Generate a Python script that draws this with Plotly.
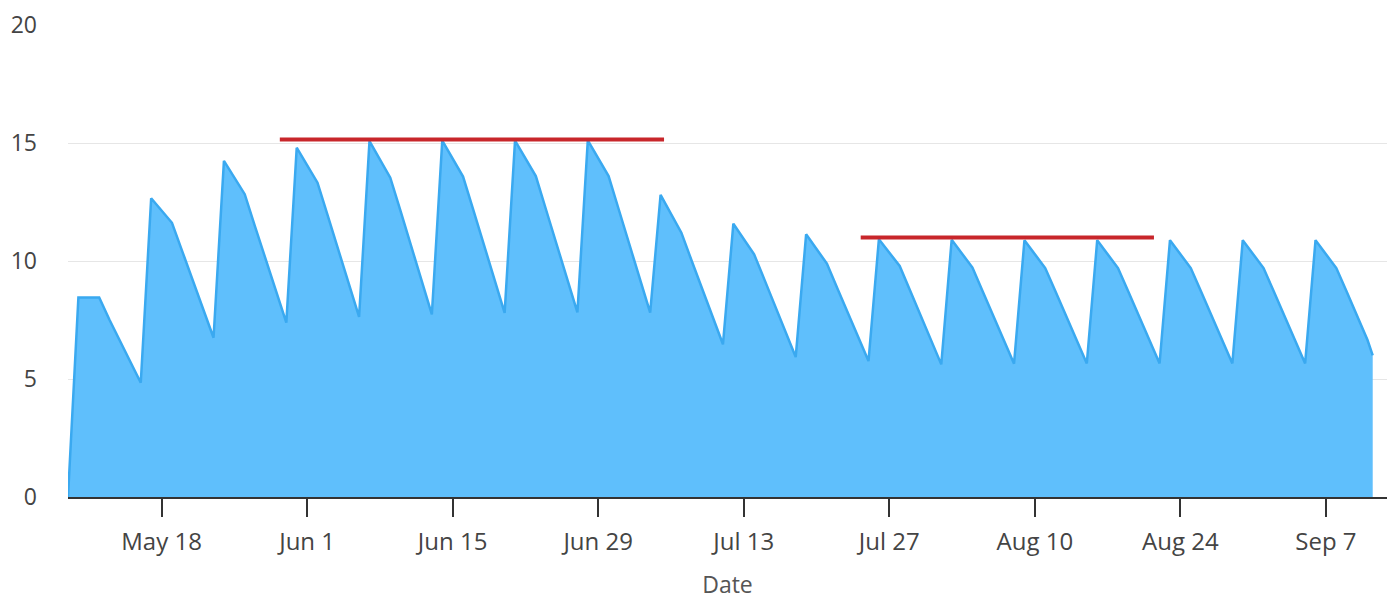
import pandas as pd
import plotly.graph_objects as go

# daily readings, May 9 .. Sep 11 (one value per day), plus a final half-day point
dates = list(pd.date_range("2025-05-09", "2025-09-11", freq="D")) + [pd.Timestamp("2025-09-11 12:00")]

values = [
    0.0, 8.45, 8.45, 8.45, 7.5, 6.6, 5.7, 4.84,          # May 9 - May 16
    12.66, 12.15, 11.62, 10.4, 9.2, 7.95, 6.75,          # May 17
    14.24, 13.55, 12.83, 11.45, 10.1, 8.75, 7.39,        # May 24
    14.8, 14.05, 13.32, 11.9, 10.45, 9.05, 7.63,         # May 31
    15.08, 14.3, 13.53, 12.1, 10.65, 9.2, 7.74,          # Jun 7
    15.1, 14.35, 13.58, 12.15, 10.7, 9.25, 7.8,          # Jun 14
    15.1, 14.35, 13.6, 12.15, 10.7, 9.25, 7.82,          # Jun 21
    15.11, 14.35, 13.6, 12.15, 10.7, 9.25, 7.81,         # Jun 28
    12.8, 12.0, 11.2, 10.0, 8.8, 7.65, 6.47,             # Jul 5
    11.58, 10.95, 10.28, 9.2, 8.1, 7.0, 5.93,            # Jul 12
    11.13, 10.5, 9.89, 8.85, 7.8, 6.75, 5.76,            # Jul 19
    10.92, 10.35, 9.79, 8.75, 7.7, 6.65, 5.62,           # Jul 26
    10.9, 10.3, 9.72, 8.7, 7.7, 6.65, 5.65,              # Aug 2
    10.88, 10.3, 9.7, 8.7, 7.7, 6.65, 5.66,              # Aug 9
    10.88, 10.3, 9.7, 8.7, 7.7, 6.65, 5.66,              # Aug 16
    10.88, 10.3, 9.7, 8.7, 7.7, 6.65, 5.66,              # Aug 23
    10.88, 10.3, 9.7, 8.7, 7.7, 6.65, 5.66,              # Aug 30
    10.88, 10.3, 9.7, 8.7, 7.7, 6.65,                    # Sep 6 - Sep 11
    6.0,
]

# red reference levels
ref_starts = ["2025-05-29 09:00", "2025-07-24 06:00"]
ref_ends = ["2025-07-05 08:00", "2025-08-21 11:00"]
ref_levels = [15.15, 11.0]

x_range = ["2025-05-09", "2025-09-12 21:00"]
y_range = [0, 20]

fig = go.Figure()

fig.add_trace(go.Scatter(
    x=dates, y=values, mode='lines', fill='tozeroy',
    line=dict(color='#3AA9F0', width=2.5),
    fillcolor='#5FBFFC', showlegend=False))

for x0, x1, lvl in zip(ref_starts, ref_ends, ref_levels):
    fig.add_trace(go.Scatter(
        x=[x0, x1], y=[lvl, lvl], mode='lines',
        line=dict(color='#C8262B', width=4), showlegend=False))

# page body adds ~8px top/left, so the figure is a bit smaller to fit the window
fig.update_layout(
    width=1391, height=592,
    margin=dict(l=60, r=12, t=17, b=103),
    paper_bgcolor='white', plot_bgcolor='white',
    font=dict(family='Open Sans, Noto Sans, sans-serif', size=23, color='#444'),
    xaxis=dict(
        title=dict(text='Date', font=dict(size=23, color='#555'), standoff=31),
        range=x_range, showgrid=False, automargin=False,
        showline=True, linecolor='#333', linewidth=1.5,
        ticks='outside', ticklen=18, tickcolor='#333', tickwidth=1.5,
        ticklabelstandoff=4, tickfont=dict(size=24),
        tick0='2025-05-18', dtick=14 * 86400000, tickformat='%b %-d',
    ),
    yaxis=dict(
        range=y_range, dtick=5, showgrid=True, gridcolor='#E6E6E6',
        zeroline=False, showline=False, ticks='', ticklabelstandoff=30,
        automargin=False,
    ),
)

fig.write_html("out.html")
